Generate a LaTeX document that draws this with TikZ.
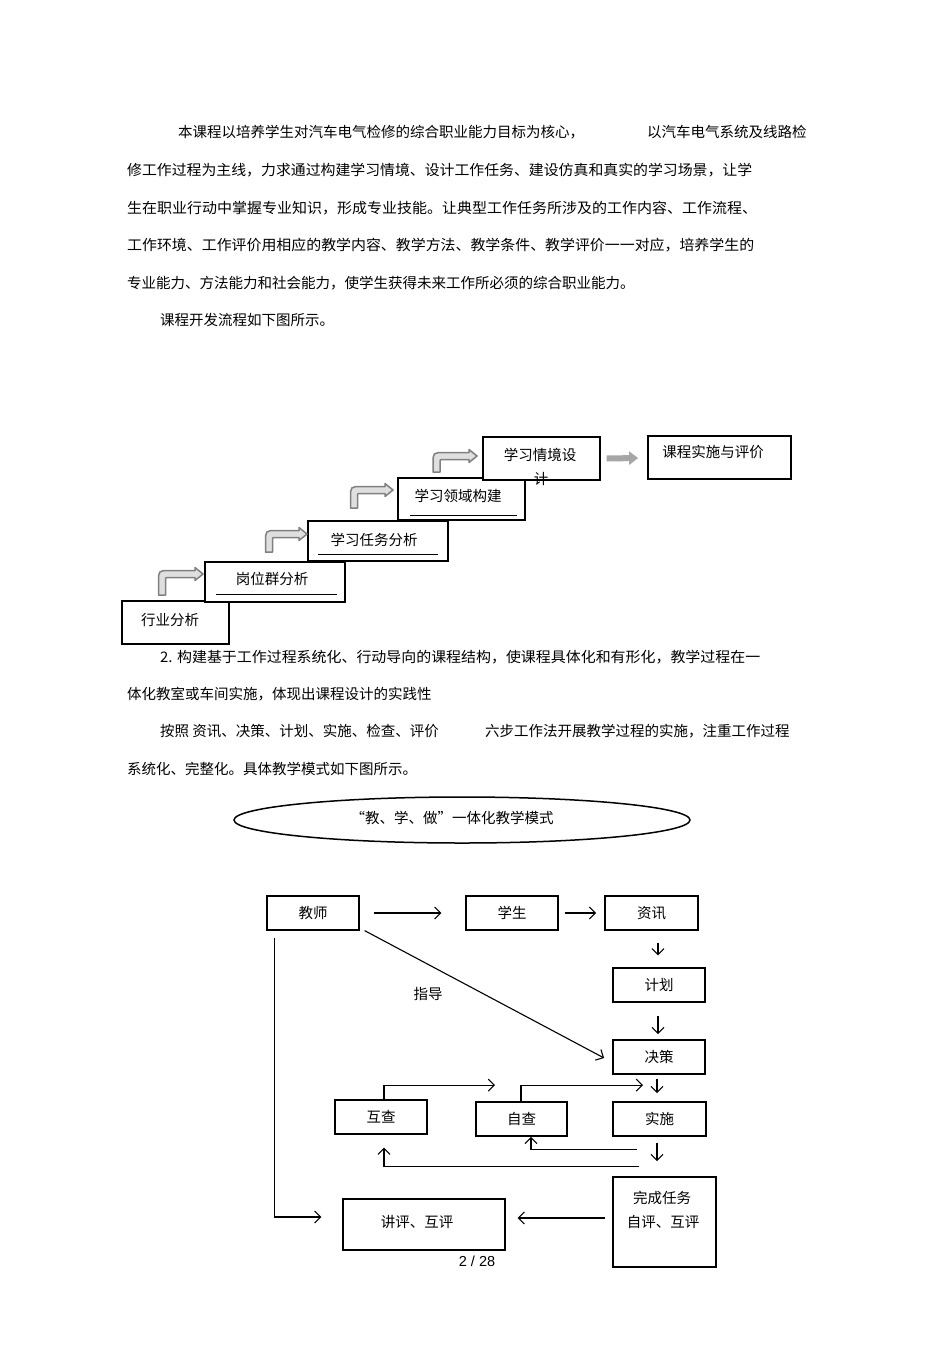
\documentclass[tikz,border=0pt]{standalone}
\usepackage{fontspec}
\usepackage{graphicx}
\setmainfont{Noto Sans CJK SC}
\newfontfamily\arialf{Liberation Sans}
\usetikzlibrary{arrows.meta,shapes.geometric,calc}
\tikzset{
  every node/.style={font=\fontsize{14.5}{17}\selectfont, inner sep=0pt},
  txt/.style={anchor=west},
  sbox/.style={draw=black, line width=1.1pt, fill=white},
  bbox/.style={draw=black, line width=1.2pt, minimum width=92pt, minimum height=34pt},
  bboxb/.style={bbox, line width=1.8pt},
  arr/.style={draw=black, line width=1.1pt, -{Straight Barb[length=6pt,width=12pt,line width=1.1pt]}},
  garr/.style={draw=gray, fill=gray!25, line width=1.5pt, line join=round},
  gblock/.style={draw=gray!70, line width=6pt, -{Triangle[length=9pt,width=13pt]}},
  uline/.style={draw=black, line width=1pt}
}
\newcommand{\bendarw}[4]{%
  \draw[garr] (#1-3.5,#2) -- (#1-3.5,#3+8) .. controls (#1-3.5,#3-3.5) .. (#1+8,#3-3.5)
   -- (#4-8,#3-3.5) -- (#4-8,#3-6.5) -- (#4,#3) -- (#4-8,#3+6.5) -- (#4-8,#3+3.5)
   -- (#1+7,#3+3.5) .. controls (#1+3.5,#3+3.5) .. (#1+3.5,#3+7) -- (#1+3.5,#2) -- cycle;}
\begin{document}
\begin{tikzpicture}[x=1pt,y=-1pt]
\path[fill=white] (0,0) rectangle (950,1345);
\useasboundingbox (0,0) rectangle (950,1345);

% ---------- paragraph text ----------
\node[txt] (p1a) at (178,132) {本课程以培养学生对汽车电气检修的综合职业能力目标为核心，};
\node[txt] (p1b) at (647,132) {以汽车电气系统及线路检};
\node[txt] (p2) at (127,170) {\resizebox{625pt}{\height}{修工作过程为主线，力求通过构建学习情境、设计工作任务、建设仿真和真实的学习场景，让学}};
\node[txt] (p3) at (127,208) {\resizebox{630pt}{\height}{生在职业行动中掌握专业知识，形成专业技能。让典型工作任务所涉及的工作内容、工作流程、}};
\node[txt] (p4) at (127,245) {\resizebox{627pt}{\height}{工作环境、工作评价用相应的教学内容、教学方法、教学条件、教学评价一一对应，培养学生的}};
\node[txt] (p5) at (127,283) {专业能力、方法能力和社会能力，使学生获得未来工作所必须的综合职业能力。};
\node[txt] (p6) at (160,320) {课程开发流程如下图所示。};

% ---------- staircase ----------
\node[sbox, minimum width=107pt, minimum height=43pt] (s1) at (175.5,622.5) {};
\node[sbox, minimum width=140pt, minimum height=40pt] (s2) at (275,582) {};
\node[sbox, minimum width=140pt, minimum height=40pt] (s3) at (378,541) {};
\node[sbox, minimum width=127pt, minimum height=42pt] (s4) at (461.5,499) {};
\node[sbox, minimum width=117pt, minimum height=43pt] (s5) at (541.5,458.5) {};
\node[sbox, line width=1.7pt, minimum width=143pt, minimum height=43pt] (s6) at (719.5,457.5) {};

\node (t1) at (170,620) {行业分析};
\node (t2) at (272,579) {岗位群分析};
\node (t3) at (374,540) {学习任务分析};
\node (t4) at (458,496) {学习领域构建};
\node (t5) at (540,455) {学习情境设};
\node (t5b) at (541,479) {计};
\node (t6) at (713,452) {课程实施与评价};

\draw[uline] (216,594) -- (337,594);
\draw[uline] (318,554) -- (438,554);
\draw[uline] (410,515) -- (517,515);

\bendarw{162}{595}{574}{203}
\bendarw{269}{552}{534}{307}
\bendarw{354}{508}{490}{393}
\bendarw{436.5}{472}{456}{477}

\draw[gblock] ($(s5.east)+(6,0)$) -- ($(s6.west)+(-9,0.5)$);

% ---------- text between ----------
\node[txt] (q1) at (160,657) {\resizebox{600pt}{\height}{2. 构建基于工作过程系统化、行动导向的课程结构，使课程具体化和有形化，教学过程在一}};
\node[txt] (q2) at (127,694) {体化教室或车间实施，体现出课程设计的实践性};
\node[txt] (q3a) at (160,731) {按照 资讯、决策、计划、实施、检查、评价};
\node[txt] (q3b) at (485,731) {六步工作法开展教学过程的实施，注重工作过程};
\node[txt] (q4) at (127,769) {系统化、完整化。具体教学模式如下图所示。};

% ---------- teaching model ----------
\node[draw=black, line width=1.5pt, ellipse, minimum width=456pt, minimum height=46pt] (ell) at (462,820) {};
\node (ellt) at (452,818) {“教、学、做”一体化教学模式};

\node[bbox] (teacher) at (313,913) {教师};
\node[bbox] (student) at (512,913) {学生};
\node[bboxb, minimum width=93pt] (zixun) at (651.5,913) {资讯};
\node[bbox] (jihua) at (659,985) {计划};
\node[bboxb] (juece) at (659,1057) {决策};
\node[bbox] (huzha) at (381,1117) {互查};
\node[bboxb, minimum width=91pt] (zicha) at (521.5,1119) {自查};
\node[bboxb, minimum width=93pt] (shishi) at (659.5,1119) {实施};
\node[bboxb, minimum width=103pt, minimum height=90pt] (wancheng) at (664.5,1222) {};
\node (wc1) at (662,1198) {完成任务};
\node (wc2) at (663,1222) {自评、互评};
\node[bbox, minimum width=162pt, minimum height=51pt] (jiangping) at (424,1224.5) {};
\node (jp) at (417,1222) {讲评、互评};
\node (zhidao) at (428,994) {指导};

\draw[arr] ($(teacher.east)+(14,0)$) -- ($(student.west)+(-24,0)$);
\draw[arr] ($(student.east)+(6,0)$) -- ($(zixun.west)+(-8,0)$);
\draw[arr] ($(zixun.south)+(6.5,12)$) -- ($(jihua.north)+(-1,-12)$);
\draw[arr] ($(jihua.south)+(-1,13)$) -- ($(juece.north)+(-1,-5)$);
\draw[arr] ($(juece.south)+(-2,4)$) -- ($(shishi.north)+(-2.5,-8)$);
\draw[arr] ($(shishi.south)+(-2.5,6)$) -- ($(wancheng.north)+(-7.5,-15)$);
\draw[arr] ($(teacher.south east)+(5,0)$) -- ($(juece.west)+(-8,1)$);
\draw[arr] ($(huzha.north)+(3,0)$) |- ($(zicha.north)+(-26.5,-16)$);
\draw[arr] ($(zicha.north)+(-0.5,0)$) |- ($(shishi.north)+(-16.5,-16)$);
\draw[arr] ($(shishi.south)+(-22.5,13)$) -| ($(zicha.south)+(9.5,0)$);
\draw[arr] ($(shishi.south)+(-20.5,30)$) -| ($(huzha.south)+(3,13)$);
\draw[arr] ($(wancheng.west)+(-7,-4)$) -- ($(jiangping.east)+(12,-6.5)$);
\draw[arr] ($(teacher.south west)+(8.5,7)$) |- ($(jiangping.west)+(-21,-7.5)$);

\node[font=\arialf\fontsize{14.5}{17}\selectfont] (pg) at (477,1261) {2 / 28};
\end{tikzpicture}
\end{document}
